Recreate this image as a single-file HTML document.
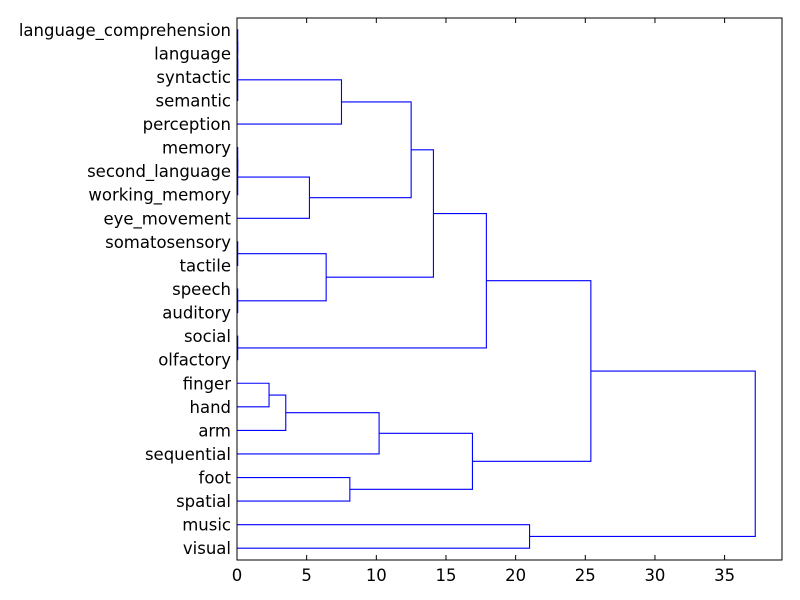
<!DOCTYPE html>
<html><head><meta charset="utf-8"><style>
body{margin:0;background:#fff}
svg{display:block;font-family:"DejaVu Sans","Liberation Sans",sans-serif}
</style></head><body>
<svg id="chart" width="800" height="600">
<rect x="0" y="0" width="800" height="600" fill="#fff"/>
<g id="links"></g>
<g id="ylabels"></g>
<g id="xaxis"></g>
<rect x="237" y="18" width="545" height="542" fill="none" stroke="#000" stroke-width="1"/>
</svg>
<script>
const leafLabels=["language_comprehension","language","syntactic","semantic","perception","memory","second_language","working_memory","eye_movement","somatosensory","tactile","speech","auditory","social","olfactory","finger","hand","arm","sequential","foot","spatial","music","visual"];
const mergeLeft=[0,23,24,25,5,27,28,26,9,11,31,30,13,34,15,37,38,19,39,36,21,42];
const mergeRight=[1,2,3,4,6,7,8,29,10,12,32,33,14,35,16,17,18,20,40,41,22,43];
const mergeHeight=[0.05,0.05,0.05,7.5,0.05,0.05,5.2,12.5,0.05,0.05,6.4,14.1,0.05,17.9,2.3,3.5,10.2,8.1,16.9,25.4,21.0,37.2];
const xTicks=[0,5,10,15,20,25,30,35];
const X0=237,X1=782,Y0=18,Y1=560,XMAX=39.12;
const xs=v=>X0+v/XMAX*(X1-X0);
const n=leafLabels.length;
const ys=i=>Y0+(i*10+5)/(n*10)*(Y1-Y0);
const NS="http://www.w3.org/2000/svg";
const pos=[],ht=[];
for(let i=0;i<n;i++){pos[i]=ys(i);ht[i]=0;}
const links=document.getElementById('links');
for(let k=0;k<mergeLeft.length;k++){
 const a=mergeLeft[k],b=mergeRight[k],h=mergeHeight[k];
 const p=document.createElementNS(NS,'path');
 p.setAttribute('d',`M${xs(ht[a])},${pos[a]}H${xs(h)}V${pos[b]}H${xs(ht[b])}`);
 p.setAttribute('fill','none');p.setAttribute('stroke','#0000ff');p.setAttribute('stroke-width','1.1');
 
 
 links.appendChild(p);
 pos[n+k]=(pos[a]+pos[b])/2;ht[n+k]=h;
}
const yl=document.getElementById('ylabels');
leafLabels.forEach((l,i)=>{
 const t=document.createElementNS(NS,'text');
 t.setAttribute('x',231);t.setAttribute('y',ys(i)+6);t.setAttribute('text-anchor','end');t.setAttribute('font-size','16.5');
 t.textContent=l;
 
 
 yl.appendChild(t);
});
const xa=document.getElementById('xaxis');
xTicks.forEach(v=>{
 const x=xs(v);
 const g=document.createElementNS(NS,'g');
 
 
 g.innerHTML=`<line x1="${x}" y1="${Y1}" x2="${x}" y2="${Y1-5}" stroke="#000"/><line x1="${x}" y1="${Y0}" x2="${x}" y2="${Y0+5}" stroke="#000"/><text x="${x}" y="${Y1+21}" text-anchor="middle" font-size="16.5">${v}</text>`;
 xa.appendChild(g);
});
</script>
</body></html>
